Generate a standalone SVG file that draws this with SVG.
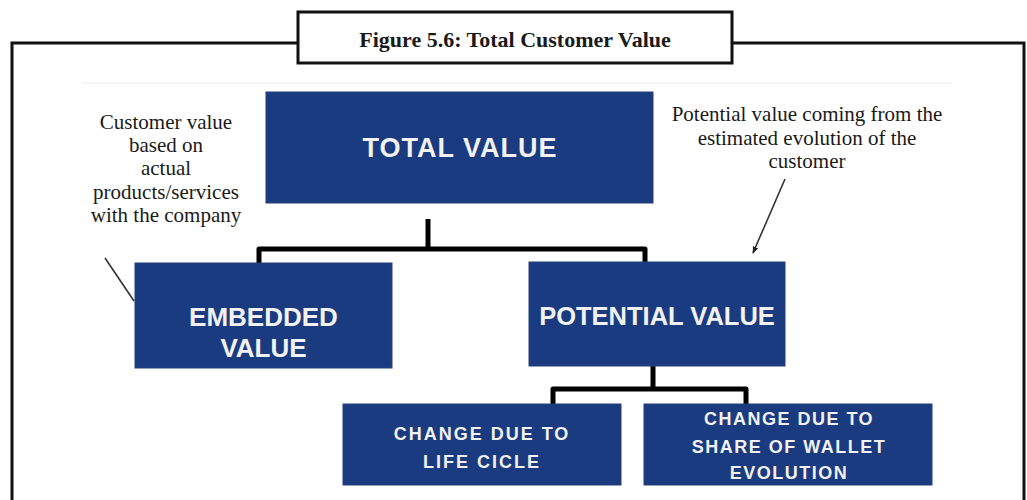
<svg xmlns="http://www.w3.org/2000/svg" width="1027" height="500" viewBox="0 0 1027 500">
<defs>
<style>
.frame{fill:none;stroke:#111;stroke-width:3}
.box{fill:#1b3b80;stroke:#243f7a;stroke-width:1}
.bt{font-family:"Liberation Sans",Arial,sans-serif;font-weight:bold;fill:#f2f2f2;text-anchor:middle}
.ann{font-family:"Liberation Serif","Times New Roman",serif;font-size:21px;fill:#1a1a1a;text-anchor:middle}
.conn{fill:none;stroke:#000;stroke-width:5;stroke-linejoin:round}
.ptr{fill:none;stroke:#333;stroke-width:1.6}
</style>
<marker id="ah" viewBox="0 0 10 10" refX="9" refY="5" markerWidth="7" markerHeight="7" orient="auto" markerUnits="userSpaceOnUse">
<path d="M0,1 L10,5 L0,9 z" fill="#222"/>
</marker>
</defs>
<rect width="1027" height="500" fill="#fff"/>
<g id="frame">
<path class="frame" d="M12,500 V43 H298 M732,43 H1024 V500"/>
<rect class="frame" x="298" y="12" width="434" height="51" fill="#fff"/>
<text x="515" y="47" font-family="'Liberation Serif','Times New Roman',serif" font-weight="bold" font-size="22" fill="#1a1a1a" text-anchor="middle">Figure 5.6: Total Customer Value</text>
</g>
<line x1="82" y1="83" x2="952" y2="83" stroke="#f0f0f0" stroke-width="1.5"/>
<g id="connectors">
<path class="conn" d="M428,219 V249 M259,263 V249 H645 V263"/>
<path class="conn" d="M653,366 V389 M553,404 V389 H746 V404"/>
<line class="ptr" x1="105" y1="258" x2="134" y2="301"/>
<line class="ptr" x1="785" y1="179" x2="753" y2="253" marker-end="url(#ah)"/>
</g>
<g id="total-value">
<rect class="box" x="266" y="92" width="387" height="111"/>
<text class="bt" x="460" y="157" font-size="27" letter-spacing="1">TOTAL VALUE</text>
</g>
<g id="embedded-value">
<rect class="box" x="135" y="263" width="257" height="105"/>
<text class="bt" x="263.5" y="326" font-size="26">EMBEDDED</text>
<text class="bt" x="263.5" y="357" font-size="26">VALUE</text>
</g>
<g id="potential-value">
<rect class="box" x="529" y="262" width="256" height="104"/>
<text class="bt" x="657" y="325" font-size="25.5">POTENTIAL VALUE</text>
</g>
<g id="life-cycle">
<rect class="box" x="343" y="404" width="278" height="81"/>
<text class="bt" x="482" y="440" font-size="18" letter-spacing="2">CHANGE DUE TO</text>
<text class="bt" x="482" y="468" font-size="18" letter-spacing="2">LIFE CICLE</text>
</g>
<g id="share-of-wallet">
<rect class="box" x="644" y="404" width="288" height="81"/>
<text class="bt" x="789" y="425" font-size="18" letter-spacing="1.5">CHANGE DUE TO</text>
<text class="bt" x="789" y="453" font-size="18" letter-spacing="1.5">SHARE OF WALLET</text>
<text class="bt" x="789" y="479" font-size="18" letter-spacing="1.5">EVOLUTION</text>
</g>
<g id="annotation-left">
<text class="ann" x="166" y="129">Customer value</text>
<text class="ann" x="166" y="152">based on</text>
<text class="ann" x="166" y="175">actual</text>
<text class="ann" x="166" y="199">products/services</text>
<text class="ann" x="166" y="222">with the company</text>
</g>
<g id="annotation-right">
<text class="ann" x="807" y="121">Potential value coming from the</text>
<text class="ann" x="807" y="145">estimated evolution of the</text>
<text class="ann" x="807" y="168">customer</text>
</g>
</svg>
